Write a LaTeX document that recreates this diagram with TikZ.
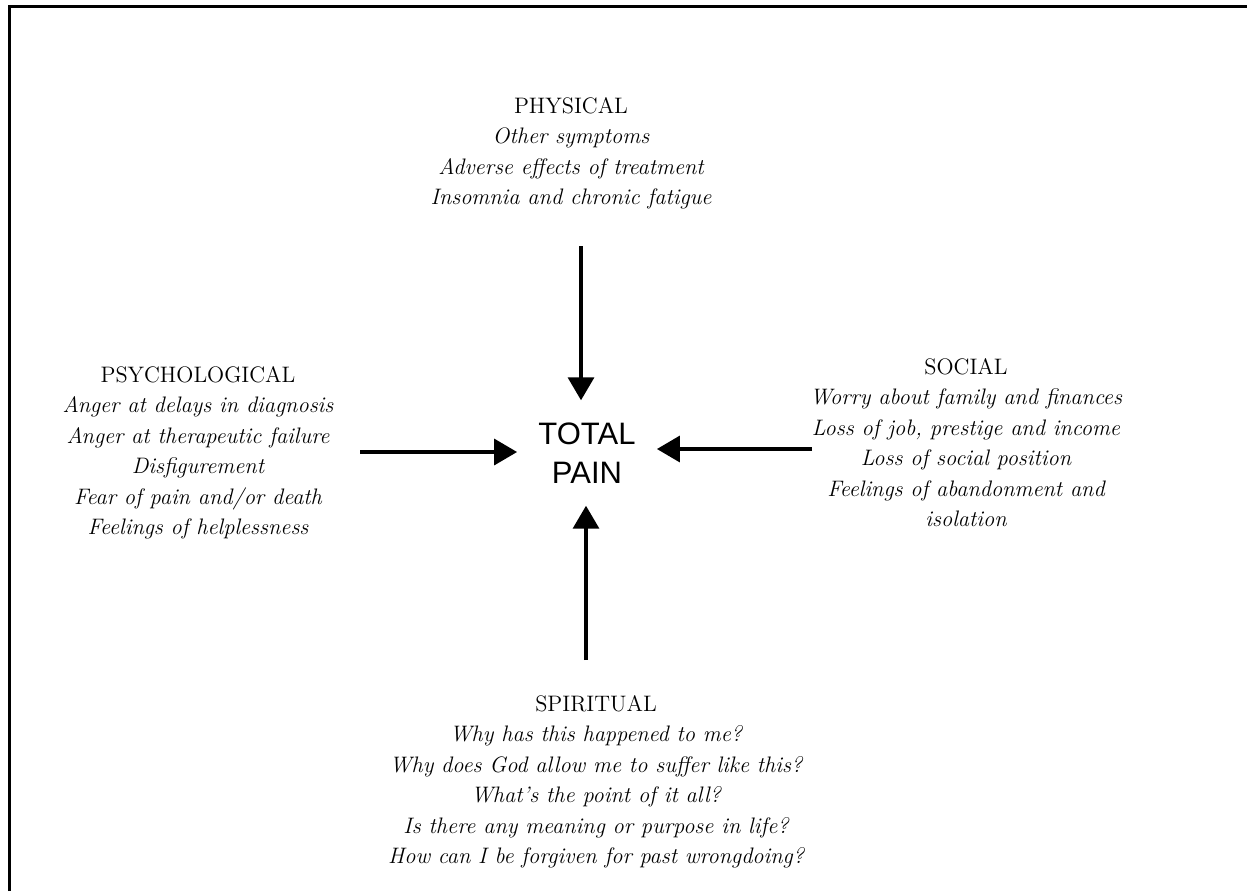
\documentclass[tikz,border=0pt]{standalone}
\usepackage{fontspec}
\newfontfamily\painfont{Liberation Sans}
\usetikzlibrary{arrows.meta}
\begin{document}
\begin{tikzpicture}[x=0.5pt, y=-0.5pt,
  block/.style={align=center, inner sep=0pt, anchor=north,
    font=\fontsize{11.2}{15.25}\selectfont\itshape},
  centre/.style={align=center, inner xsep=10.5pt, inner ysep=11pt,
    font=\fontsize{15.5}{19.5}\selectfont\painfont},
  push/.style={line width=1.75pt, -{Triangle[length=11.5pt,width=13pt]}},
  frame/.style={line width=1.5pt}]

\useasboundingbox (0,0) rectangle (1247,891);

% open frame: top and left edges only
\draw[frame] (9.5,891) -- (9.5,6.5) -- (1247,6.5);

% the four dimensions of pain
\node[block] (physical) at (571,97)
  {{\upshape PHYSICAL}\\ Other symptoms\\ Adverse effects of treatment\\
   Insomnia and chronic fatigue};
\node[block] (psych) at (198,366)
  {{\upshape PSYCHOLOGICAL}\\ Anger at delays in diagnosis\\
   Anger at therapeutic failure\\ Disfigurement\\ Fear of pain and/or death\\
   Feelings of helplessness};
\node[block] (social) at (966,358)
  {{\upshape SOCIAL}\\ Worry about family and finances\\
   Loss of job, prestige and income\\ Loss of social position\\
   Feelings of abandonment and\\ isolation};
\node[block] (spiritual) at (596,695)
  {{\upshape SPIRITUAL}\\ Why has this happened to me?\\
   Why does God allow me to suffer like this?\\ What's the point of it all?\\
   Is there any meaning or purpose in life?\\
   How can I be forgiven for past wrongdoing?};

% centre
\node[centre] (pain) at (587,453) {TOTAL\\ PAIN};

% arrow tails
\coordinate (ftop) at (581,246);
\coordinate (fleft) at (360,452);
\coordinate (fright) at (812,449);
\coordinate (fbottom) at (586,660);

\draw[push] (ftop) -- (ftop |- pain.north);
\draw[push] (fleft) -- (fleft -| pain.west);
\draw[push] (fright) -- (fright -| pain.east);
\draw[push] (fbottom) -- (fbottom |- pain.south);
\end{tikzpicture}
\end{document}
